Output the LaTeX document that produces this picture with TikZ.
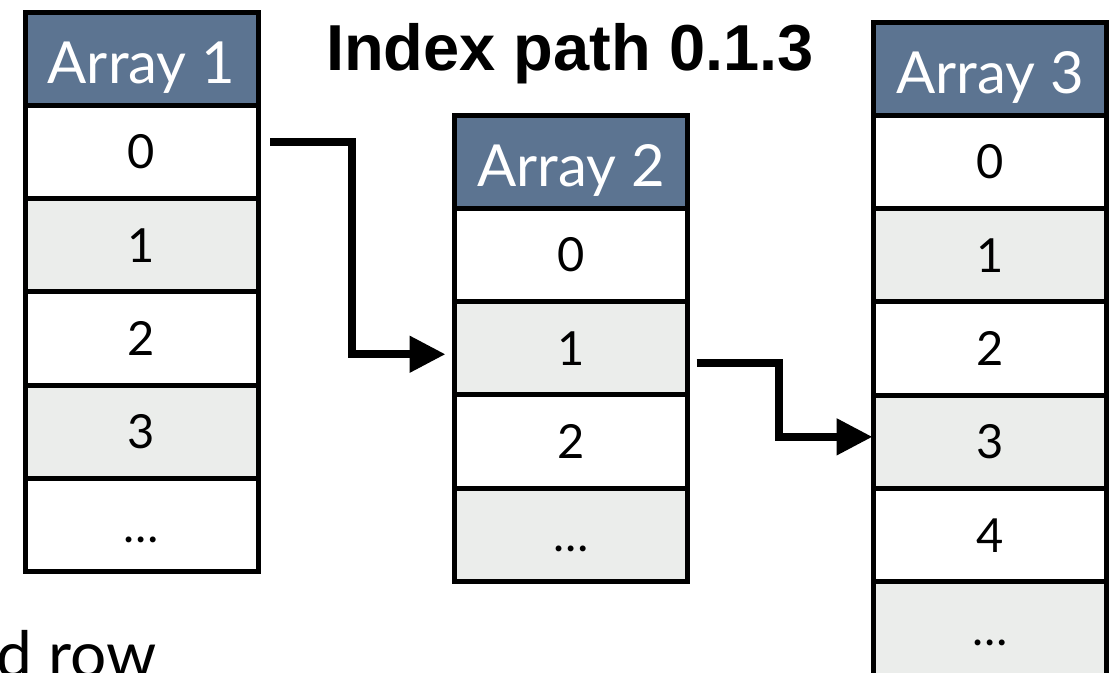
\documentclass[tikz,border=0pt]{standalone}
\usepackage{fontspec}
\setmainfont{Lato}
\newfontfamily\titlefont{Liberation Sans}
\usetikzlibrary{arrows.meta}
\definecolor{hdrblue}{RGB}{92,116,145}
\definecolor{cellgrey}{RGB}{235,237,235}
\begin{document}
\begin{tikzpicture}[x=1pt,y=-1pt,
  cellbase/.style={draw=black,line width=5pt,minimum width=233pt,minimum height=93.3pt,
    inner sep=0pt,outer sep=0pt,anchor=north},
  hdr/.style={cellbase,fill=hdrblue,text=white,font=\fontsize{58}{64}\selectfont,
    text height=49pt,text depth=0pt},
  wcell/.style={cellbase,fill=white,font=\fontsize{47}{54}\selectfont,text height=34pt,text depth=0pt},
  gcell/.style={wcell,fill=cellgrey},
  arr/.style={line width=8pt,-{Triangle[length=36pt,width=35pt]}}]
\useasboundingbox (0,0) rectangle (1113,672);
\clip (0,0) rectangle (1113,672);
\fill[white] (0,0) rectangle (1113,672);

% Array 1
\node[hdr] (a1h) at (141.5,12) {Array 1};
\node[wcell] (a1r0) at (a1h.south) {0};
\node[gcell] (a1r1) at (a1r0.south) {1};
\node[wcell] (a1r2) at (a1r1.south) {2};
\node[gcell] (a1r3) at (a1r2.south) {3};
\node[wcell] (a1r4) at (a1r3.south) {…};

% Array 2
\node[hdr] (a2h) at (571,115) {Array 2};
\node[wcell] (a2r0) at (a2h.south) {0};
\node[gcell] (a2r1) at (a2r0.south) {1};
\node[wcell] (a2r2) at (a2r1.south) {2};
\node[gcell] (a2r3) at (a2r2.south) {…};

% Array 3
\node[hdr] (a3h) at (990,22) {Array 3};
\node[wcell] (a3r0) at (a3h.south) {0};
\node[gcell] (a3r1) at (a3r0.south) {1};
\node[wcell] (a3r2) at (a3r1.south) {2};
\node[gcell] (a3r3) at (a3r2.south) {3};
\node[wcell] (a3r4) at (a3r3.south) {4};
\node[gcell] (a3r5) at (a3r4.south) {…};

% Title
\node[font=\titlefont\bfseries\fontsize{65}{72}\selectfont,anchor=base,inner sep=0pt] (title) at (570,70) {Index path 0.1.3};

% Clipped caption
\node[font=\fontsize{64}{70}\selectfont,anchor=base west,inner sep=0pt] (caption) at (-4,677) {d row};

% Connectors
\draw[arr] ([xshift=12pt,yshift=9.5pt]a1r0.east) -- ++(82,0) |- ([xshift=-9pt,yshift=-6pt]a2r1.west);
\draw[arr] ([xshift=9pt,yshift=-15pt]a2r1.east) -- ++(82,0) |- ([xshift=-1pt,yshift=5pt]a3r3.west);
\end{tikzpicture}
\end{document}
